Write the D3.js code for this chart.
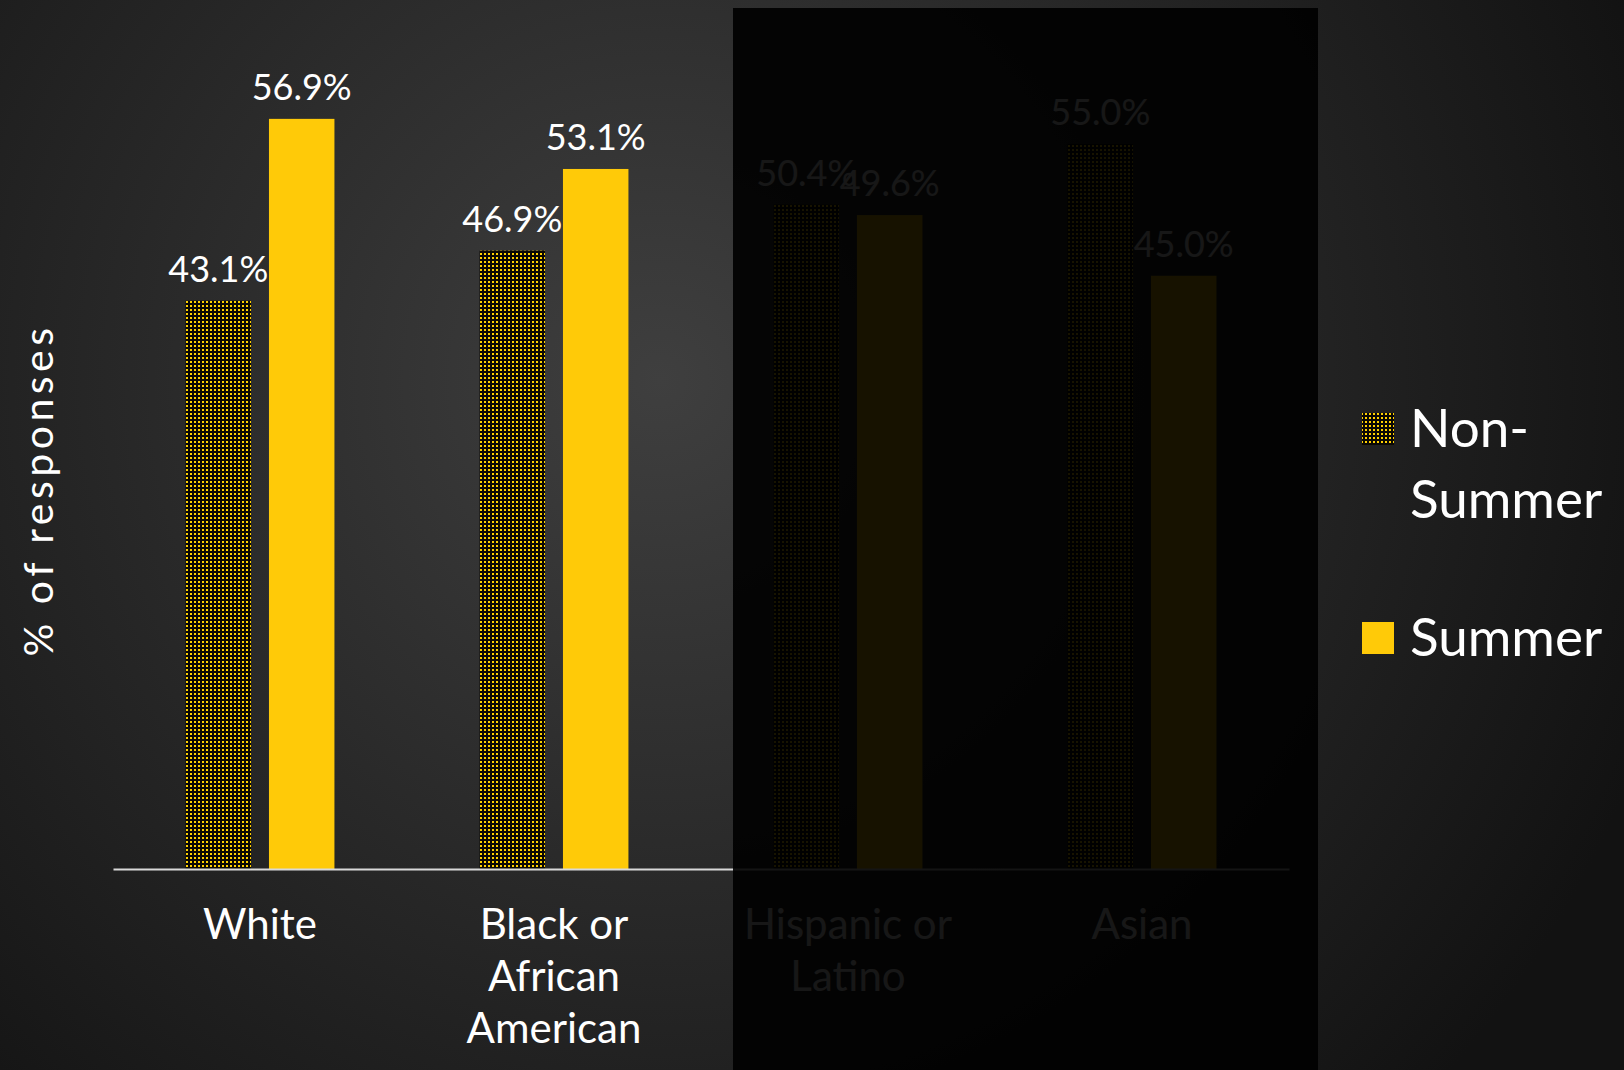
<!DOCTYPE html>
<html>
<head>
<meta charset="utf-8">
<script src="https://cdn.jsdelivr.net/npm/d3@7"></script>
<style>
  html, body { margin: 0; padding: 0; background: #1a1a1a; overflow: hidden; }
  svg { display: block; }
  text { font-family: Lato, "Open Sans", sans-serif; }
</style>
</head>
<body>
<svg id="chart" width="1624" height="1070"></svg>
<script>
// ---- data ----
const categories = ["White", "Black or African American", "Hispanic or Latino", "Asian"];
const categoryLines = [["White"], ["Black or", "African", "American"], ["Hispanic or", "Latino"], ["Asian"]];
const series = ["Non-Summer", "Summer"];
const nonSummerValues = [43.1, 46.9, 50.4, 55.0];
const summerValues = [56.9, 53.1, 49.6, 45.0];
const legendLines = [["Non-", "Summer"], ["Summer"]];
const yTitle = "% of responses";

// ---- layout ----
const W = 1624, H = 1070;
const yellow = "#ffca08";
const svg = d3.select("#chart");
const defs = svg.append("defs");

const bg = defs.append("radialGradient").attr("id", "bg")
  .attr("gradientUnits", "userSpaceOnUse")
  .attr("cx", 660).attr("cy", 380).attr("r", 1050);
bg.append("stop").attr("offset", "0%").attr("stop-color", "#3f3f3f");
bg.append("stop").attr("offset", "55%").attr("stop-color", "#262626");
bg.append("stop").attr("offset", "100%").attr("stop-color", "#121212");

const pat = defs.append("pattern").attr("id", "dots")
  .attr("patternUnits", "userSpaceOnUse").attr("width", 4).attr("height", 4);
pat.append("rect").attr("width", 4).attr("height", 4).attr("fill", "#0a0803");
pat.append("rect").attr("x", 1).attr("y", 1).attr("width", 2).attr("height", 2).attr("fill", "#ffd000");

svg.append("rect").attr("width", W).attr("height", H).attr("fill", "url(#bg)");

const x0 = d3.scaleBand().domain(categories).range([113, 1289]).paddingInner(0).paddingOuter(0);
const x1 = d3.scaleBand().domain(series).range([0, x0.bandwidth()]).paddingInner(0.215).paddingOuter(0.87);
const y = d3.scaleLinear().domain([0, 60]).range([869, 78]);

const rows = categories.map((c, i) => ({
  cat: c,
  vals: [
    { s: series[0], v: nonSummerValues[i] },
    { s: series[1], v: summerValues[i] }
  ]
}));

const fills = { "Non-Summer": "url(#dots)", "Summer": yellow };

const g = svg.append("g");
const groups = g.selectAll("g.grp").data(rows).join("g")
  .attr("class", "grp")
  .attr("transform", d => `translate(${x0(d.cat)},0)`);

groups.selectAll("rect").data(d => d.vals).join("rect")
  .attr("x", d => x1(d.s))
  .attr("y", d => y(d.v))
  .attr("width", x1.bandwidth())
  .attr("height", d => y(0) - y(d.v))
  .attr("fill", d => fills[d.s]);

groups.selectAll("text.lbl").data(d => d.vals).join("text")
  .attr("class", "lbl")
  .attr("x", d => x1(d.s) + x1.bandwidth() / 2)
  .attr("y", d => y(d.v) - 19)
  .attr("text-anchor", "middle")
  .attr("fill", "#ffffff")
  .attr("font-size", 36)
  .text(d => d.v.toFixed(1) + "%");

// x axis
const xAxis = d3.axisBottom(x0).tickSize(0).tickSizeOuter(0).tickFormat("");
const ax = svg.append("g").attr("transform", `translate(0,${y(0)})`).call(xAxis);
ax.select(".domain").attr("stroke", "#d9d9d9").attr("stroke-width", 2);
ax.selectAll(".tick text").remove();
ax.selectAll(".tick").each(function(d, i) {
  const t = d3.select(this).append("text")
    .attr("text-anchor", "middle")
    .attr("fill", "#ffffff")
    .attr("font-size", 42)
    .attr("y", 70);
  categoryLines[i].forEach((ln, k) => {
    t.append("tspan").attr("x", 0).attr("y", 70 + k * 52).text(ln);
  });
});

// y title
svg.append("text")
  .attr("transform", "translate(53,490) rotate(-90)")
  .attr("text-anchor", "middle")
  .attr("fill", "#ffffff")
  .attr("font-size", 41)
  .attr("letter-spacing", 4.5)
  .text(yTitle);

// legend
const lg = svg.append("g");
const legendY = [413, 622];
series.forEach((s, i) => {
  lg.append("rect").attr("x", 1362).attr("y", legendY[i]).attr("width", 32).attr("height", 32)
    .attr("fill", fills[s]);
  const t = lg.append("text").attr("fill", "#ffffff").attr("font-size", 53);
  legendLines[i].forEach((ln, k) => {
    t.append("tspan").attr("x", 1410).attr("y", legendY[i] + 34 + k * 71).text(ln);
  });
});

// dim overlay
svg.append("rect").attr("x", 733).attr("y", 8).attr("width", 585).attr("height", H - 8)
  .attr("fill", "#000000").attr("opacity", 0.91);
</script>
</body>
</html>
